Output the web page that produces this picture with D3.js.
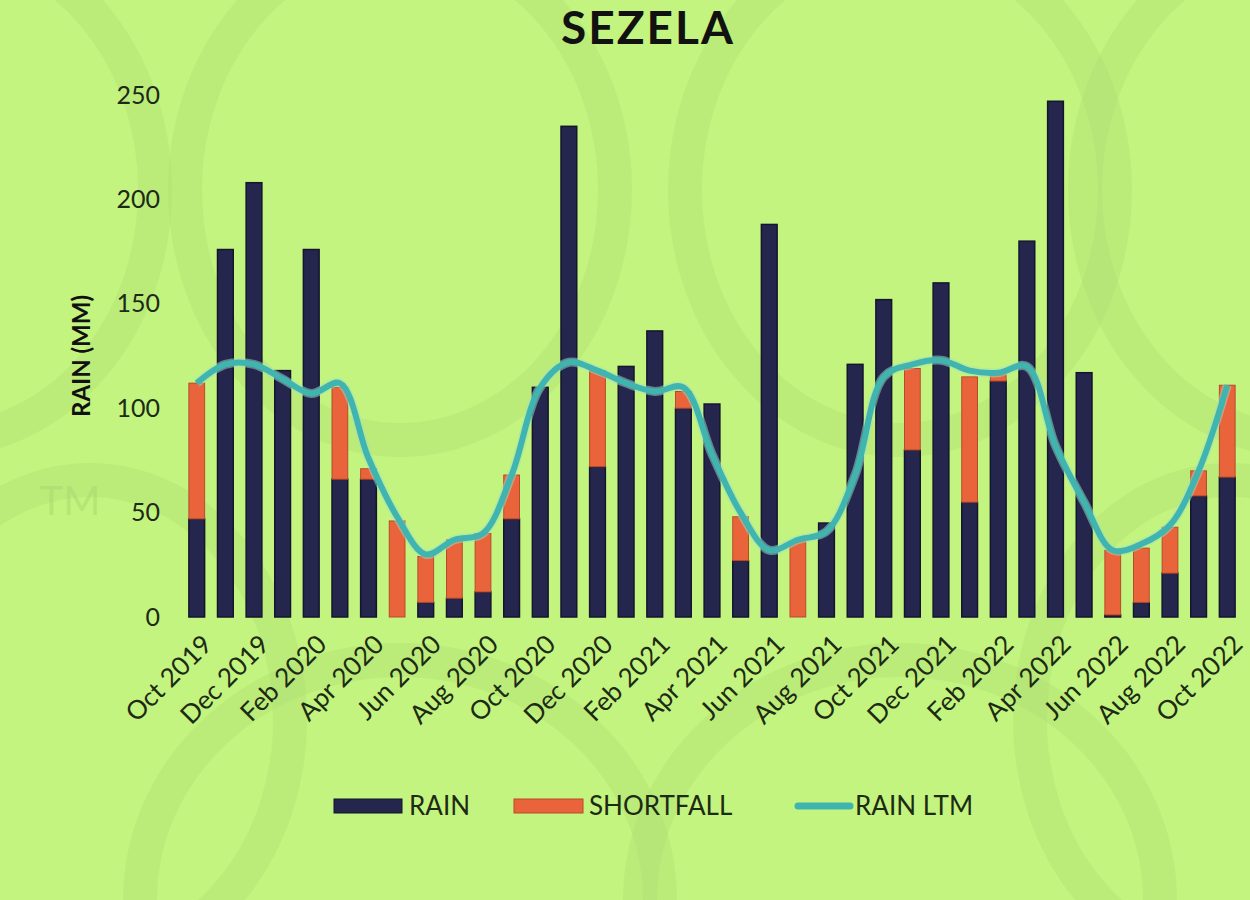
<!DOCTYPE html>
<html>

<head>
    <meta charset="utf-8">
    <style>
        body {
            margin: 0;
            background: #c3f47f;
        }

        svg {
            display: block;
            font-family: Lato, 'Open Sans', sans-serif;
        }
    </style>
</head>

<body>
    <svg width="1250" height="900"></svg>
</body>

<script src="https://d3js.org/d3.v7.min.js"></script>

<script>
    // months shown on the x axis (one bar each)
    let months = ["Oct 2019", "Nov 2019", "Dec 2019", "Jan 2020", "Feb 2020", "Mar 2020", "Apr 2020", "May 2020",
        "Jun 2020", "Jul 2020", "Aug 2020", "Sep 2020", "Oct 2020", "Nov 2020", "Dec 2020", "Jan 2021",
        "Feb 2021", "Mar 2021", "Apr 2021", "May 2021", "Jun 2021", "Jul 2021", "Aug 2021", "Sep 2021",
        "Oct 2021", "Nov 2021", "Dec 2021", "Jan 2022", "Feb 2022", "Mar 2022", "Apr 2022", "May 2022",
        "Jun 2022", "Jul 2022", "Aug 2022", "Sep 2022", "Oct 2022"]

    let rain = [47, 176, 208, 118, 176, 66, 66, 0, 7, 9, 12, 47, 110, 235, 72, 120, 137, 100, 102, 27, 188, 0, 45, 121,
        152, 80, 160, 55, 113, 180, 247, 117, 1, 7, 21, 58, 67]

    let shortfall = [65, 0, 0, 0, 0, 44, 5, 46, 22, 28, 28, 21, 0, 0, 46, 0, 0, 8, 0, 21, 0, 36, 0, 0,
        0, 39, 0, 60, 3, 0, 0, 0, 31, 26, 22, 12, 44]

    let rainLtm = [112, 121, 121, 114, 107, 112, 76, 48, 30, 37, 40, 68, 110, 122, 118, 112, 108, 110, 78, 50, 32, 37, 41, 68,
        115, 121, 123, 118, 117, 120, 82, 55, 32, 35, 44, 70, 111]

    let yTicks = [0, 50, 100, 150, 200, 250]

    let svg = d3.select("svg")

    // faint logo watermark in the background
    let marks = svg.append("g")
        .style("fill", "none")
        .style("stroke", "#a9d86f")
        .style("stroke-opacity", 0.28)
        .style("stroke-width", 34)
    let rings = [[400, 190, 215, 250], [900, 190, 215, 250], [1300, 190, 215, 250], [-60, 190, 215, 250],
        [400, 900, 260, 240], [900, 900, 260, 240], [90, 720, 200, 240], [1230, 720, 200, 240]]
    marks.selectAll("ellipse")
        .data(rings)
        .join("ellipse")
        .attr("cx", d => d[0])
        .attr("cy", d => d[1])
        .attr("rx", d => d[2])
        .attr("ry", d => d[3])
    svg.append("text")
        .attr("x", 70).attr("y", 515)
        .attr("text-anchor", "middle")
        .style("font-size", "40px")
        .style("fill", "#a9d86f")
        .style("opacity", 0.5)
        .text("TM")

    let x = d3.scaleBand()
        .domain(months)
        .range([176, 1248])
        .paddingInner(0.45)
        .paddingOuter(0.45)

    let y = d3.scaleLinear()
        .domain([0, 250])
        .range([617, 95])

    // title
    svg.append("text")
        .attr("x", 648)
        .attr("y", 44)
        .attr("text-anchor", "middle")
        .style("font-size", "46px")
        .style("font-weight", "bold")
        .style("letter-spacing", "2px")
        .style("fill", "#111")
        .text("SEZELA")

    // y axis (labels only)
    let yAxis = svg.append("g")
        .attr("transform", "translate(160,0)")
        .call(d3.axisLeft(y).tickValues(yTicks).tickSize(0).tickPadding(0))
    yAxis.select(".domain").remove()
    yAxis.selectAll("text")
        .style("font-size", "25px")
        .style("font-family", "Lato, sans-serif")
        .style("fill", "#1d2a14")

    svg.append("text")
        .attr("transform", "translate(90,356) rotate(-90)")
        .attr("text-anchor", "middle")
        .style("font-size", "24px")
        .style("font-weight", "bold")
        .style("fill", "#111")
        .text("RAIN (MM)")

    // x axis, every second month labelled
    let xAxis = svg.append("g")
        .attr("transform", "translate(0,617)")
        .call(d3.axisBottom(x).tickValues(months.filter((d, i) => i % 2 == 0)).tickSize(0).tickPadding(0))
    xAxis.select(".domain").remove()
    xAxis.selectAll("text")
        .attr("text-anchor", "end")
        .attr("dy", null)
        .attr("transform", "translate(17,29) rotate(-45)")
        .style("font-size", "26px")
        .style("font-family", "Lato, sans-serif")
        .style("fill", "#1d2a14")

    // stacked bars: rain then shortfall
    let bars = svg.append("g")
    bars.selectAll(".rain")
        .data(months)
        .join("rect")
        .attr("class", "rain")
        .attr("x", d => x(d))
        .attr("width", x.bandwidth())
        .attr("y", (d, i) => y(rain[i]))
        .attr("height", (d, i) => y(0) - y(rain[i]))
        .style("fill", "#25264d")
        .style("stroke", "#15152e")
        .style("stroke-width", 1.5)

    bars.selectAll(".short")
        .data(months)
        .join("rect")
        .attr("class", "short")
        .attr("x", d => x(d))
        .attr("width", x.bandwidth())
        .attr("y", (d, i) => y(rain[i] + shortfall[i]))
        .attr("height", (d, i) => y(rain[i]) - y(rain[i] + shortfall[i]))
        .style("fill", "#e9643b")
        .style("stroke", "#b84a2a")
        .style("stroke-width", (d, i) => shortfall[i] > 0 ? 1 : 0)

    // long term mean line
    let line = d3.line()
        .x((d, i) => x(months[i]) + x.bandwidth() / 2)
        .y(d => y(d))
        .curve(d3.curveCatmullRom.alpha(0.5))

    svg.append("path")
        .datum(rainLtm)
        .attr("d", line)
        .style("fill", "none")
        .style("stroke", "#9fe0c8")
        .style("stroke-width", 9)
        .style("opacity", 0.5)
    svg.append("path")
        .datum(rainLtm)
        .attr("d", line)
        .style("fill", "none")
        .style("stroke", "#40b5b0")
        .style("stroke-width", 6)
        .style("stroke-linejoin", "round")

    // legend
    let legend = svg.append("g").attr("transform", "translate(0,806)")
    legend.append("rect")
        .attr("x", 334).attr("y", -7).attr("width", 68).attr("height", 14)
        .style("fill", "#25264d").style("stroke", "#15152e")
    legend.append("text")
        .attr("x", 409).attr("y", 9)
        .text("RAIN")
    legend.append("rect")
        .attr("x", 514).attr("y", -7).attr("width", 69).attr("height", 14)
        .style("fill", "#e9643b").style("stroke", "#b84a2a")
    legend.append("text")
        .attr("x", 589).attr("y", 9)
        .text("SHORTFALL")
    legend.append("line")
        .attr("x1", 798).attr("x2", 850).attr("y1", 0).attr("y2", 0)
        .style("stroke", "#40b5b0").style("stroke-width", 7).style("stroke-linecap", "round")
    legend.append("text")
        .attr("x", 855).attr("y", 9)
        .text("RAIN LTM")
    legend.selectAll("text")
        .style("font-size", "26px")
        .style("fill", "#1d2a14")
</script>

</html>
